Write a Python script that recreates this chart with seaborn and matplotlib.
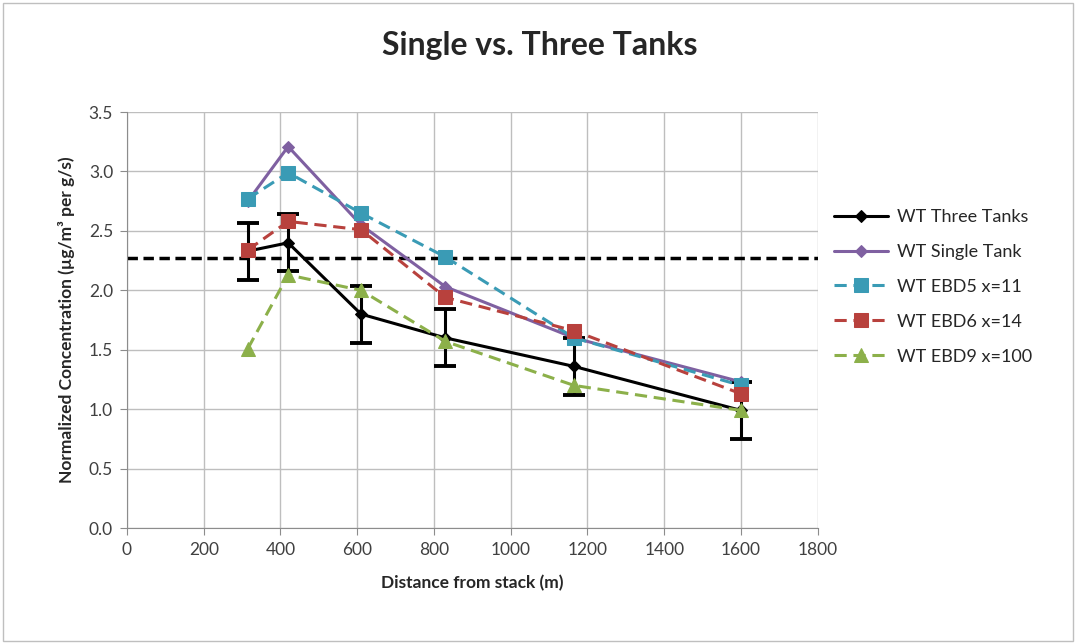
import matplotlib
matplotlib.use("Agg")
import matplotlib.pyplot as plt
import seaborn as sns
import pandas as pd
from matplotlib.patches import Rectangle

distance = [315, 420, 610, 830, 1165, 1600]
three_tanks = [2.33, 2.40, 1.80, 1.60, 1.36, 0.99]
three_tanks_err = [0.24, 0.24, 0.24, 0.24, 0.24, 0.24]
single_tank = [2.75, 3.21, 2.55, 2.03, 1.60, 1.23]
ebd5 = [2.77, 2.99, 2.65, 2.28, 1.60, 1.20]
ebd6 = [2.34, 2.58, 2.51, 1.94, 1.66, 1.13]
ebd9 = [1.51, 2.13, 2.00, 1.57, 1.20, 0.99]
ref_level = 2.27
x_ticks = [0, 200, 400, 600, 800, 1000, 1200, 1400, 1600, 1800]
y_ticks = [0.0, 0.5, 1.0, 1.5, 2.0, 2.5, 3.0, 3.5]

sns.set_style("white")
plt.rcParams['font.family'] = ['Lato', 'DejaVu Sans']

fig = plt.figure(figsize=(10.76, 6.44), dpi=100)
ax = fig.add_axes([0.118, 0.180, 0.642, 0.646])

series = [
    ("WT Three Tanks", three_tanks, "#000000", "D", "-", 6.5),
    ("WT Single Tank", single_tank, "#7F60A1", "D", "-", 6.5),
    ("WT EBD5 x=11", ebd5, "#3A9BB5", "s", (0, (4, 2.2)), 9.5),
    ("WT EBD6 x=14", ebd6, "#B8413D", "s", (0, (4, 2.2)), 9.5),
    ("WT EBD9 x=100", ebd9, "#8CB04A", "^", (0, (4, 2.2)), 9.5),
]

ax.axhline(ref_level, color="black", lw=2.5, ls=(0, (3, 1.6)), zorder=1)

# error bars for three tanks
ax.errorbar(distance, three_tanks, yerr=three_tanks_err, fmt="none",
            ecolor="black", elinewidth=2.2, capsize=8, capthick=2.8, zorder=2)

for label, vals, col, mk, ls, ms in series:
    df = pd.DataFrame({"x": distance, "y": vals})
    sns.lineplot(data=df, x="x", y="y", ax=ax, color=col, marker=mk,
                 markersize=ms, markeredgecolor=col, linewidth=2.2,
                 linestyle=ls, label=label, zorder=3)

ax.set_xlim(0, 1800)
ax.set_ylim(0, 3.5)
ax.set_xticks(x_ticks)
ax.set_yticks(y_ticks)
ax.set_yticklabels([f"{v:.1f}" for v in y_ticks])
ax.grid(True, color="#BEBEBE", lw=1.0)
ax.set_axisbelow(True)
for s in ["top", "right"]:
    ax.spines[s].set_visible(False)
for s in ["left", "bottom"]:
    ax.spines[s].set_color("#8C8C8C")
ax.tick_params(axis="both", labelsize=12.5, colors="#404040", length=5,
               direction="out", color="#8C8C8C", left=True, bottom=True, pad=5)
ax.set_xlabel("Distance from stack (m)", fontsize=12.5, fontweight="bold", labelpad=12)
ax.set_ylabel("Normalized Concentration (µg/m³ per g/s)", fontsize=12.5,
              fontweight="bold", labelpad=10)
fig.text(0.502, 0.93, "Single vs. Three Tanks", fontsize=23, fontweight="bold",
         ha="center", va="center")

leg = ax.legend(loc="center left", bbox_to_anchor=(1.0, 0.58), frameon=False,
                fontsize=13, handlelength=3.0, labelspacing=1.05, handletextpad=0.5)

fig.patches.append(Rectangle((0.003, 0.004), 0.994, 0.992, transform=fig.transFigure,
                             fill=False, edgecolor="#BFBFBF", lw=1.0))

fig.savefig("out.png", dpi=100)
